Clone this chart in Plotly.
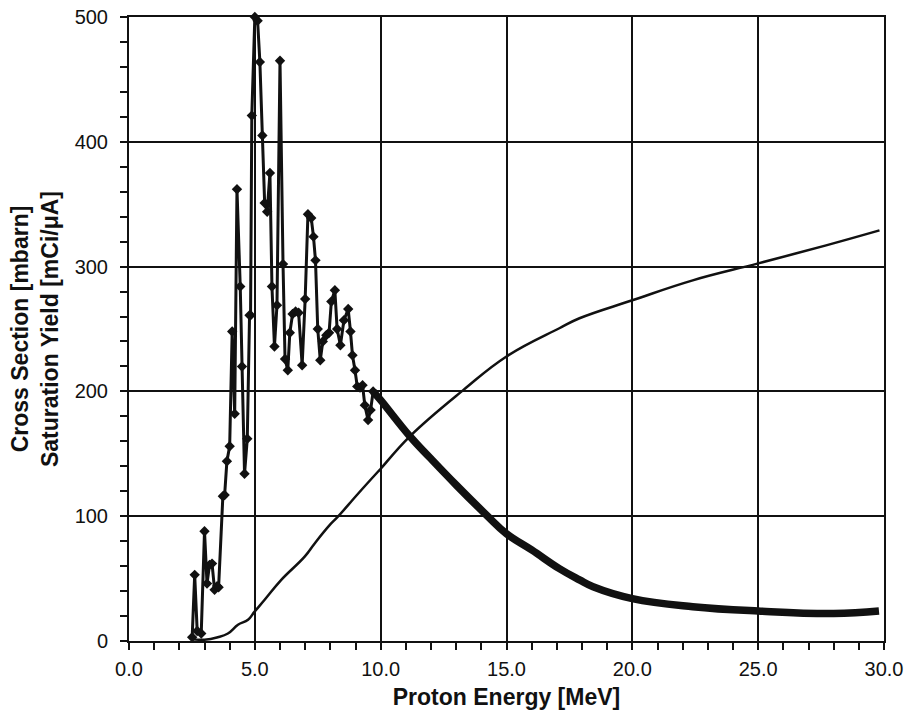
import plotly.graph_objects as go

# Measured cross section (diamond markers), MeV / mbarn
xs_energy = [2.51, 2.61, 2.71, 2.87, 3.0, 3.1, 3.2, 3.3, 3.4, 3.5, 3.56, 3.73, 3.8, 3.89, 4.0,
             4.1, 4.2, 4.29, 4.42, 4.49, 4.59, 4.7, 4.79, 4.83, 4.88, 5.0, 5.11, 5.2, 5.3,
             5.39, 5.49, 5.6, 5.68, 5.78, 5.88, 6.0, 6.12, 6.2, 6.31, 6.39, 6.5, 6.62, 6.74,
             6.88, 7.0, 7.11, 7.24, 7.33, 7.41, 7.5, 7.6, 7.7, 7.84, 7.95, 8.04, 8.18, 8.27,
             8.4, 8.54, 8.71, 8.8, 8.88, 8.98, 9.07, 9.18, 9.28, 9.37, 9.5, 9.6, 9.7]
xs_sigma = [3, 53, 8, 6, 88, 46, 61, 62, 41, 44, 43, 116, 117, 144, 156,
            248, 182, 362, 284, 220, 134, 162, 261, 261, 421, 500, 497, 464, 405,
            351, 344, 375, 284, 236, 269, 465, 302, 226, 217, 247, 262, 264, 263,
            221, 274, 342, 339, 324, 305, 250, 225, 240, 245, 247, 272, 281, 250,
            237, 257, 266, 248, 229, 217, 204, 203, 205, 189, 177, 185, 200]

# Evaluated cross section above 10 MeV (dense thick curve)
xs_hi_energy = [9.7, 10.0, 11.16, 11.95, 13.0, 14.2, 15.0, 16.0, 17.1, 17.9, 18.44, 20.0,
                22.4, 25.0, 28.0, 29.8]
xs_hi_sigma = [200, 193, 164, 147, 125, 101, 86, 73, 58, 49, 43.5, 34, 27.5, 24, 22, 24]

# Saturation yield, mCi/uA
yield_energy = [2.5, 3.0, 3.53, 3.93, 4.33, 4.73, 4.99, 5.39, 6.05, 6.98, 7.37, 7.98, 8.3,
                9.1, 9.89, 10.0, 11.16, 13.28, 15.0, 17.1, 17.9, 20.0, 22.4, 25.0, 27.7, 29.82]
yield_value = [1.5, 1, 3, 6, 13, 17, 23.5, 33, 49, 67.6, 78, 93, 99.6,
               118, 135.6, 138, 164, 201, 228, 250.6, 258.6, 273, 289, 302.6, 317, 329]

x_ticks = [0, 5, 10, 15, 20, 25, 30]
x_tick_labels = ["0.0", "5.0", "10.0", "15.0", "20.0", "25.0", "30.0"]
y_ticks = [0, 100, 200, 300, 400, 500]

fig = go.Figure()
fig.add_trace(go.Scatter(x=yield_energy, y=yield_value, mode="lines",
                         line=dict(color="#111111", width=2.5, shape="spline", smoothing=1.2),
                         cliponaxis=False, showlegend=False))
fig.add_trace(go.Scatter(x=xs_hi_energy, y=xs_hi_sigma, mode="lines",
                         line=dict(color="#111111", width=7.5, shape="spline", smoothing=1.2),
                         cliponaxis=False, showlegend=False))
fig.add_trace(go.Scatter(x=xs_energy, y=xs_sigma, mode="lines+markers",
                         line=dict(color="#111111", width=3),
                         marker=dict(symbol="diamond", size=8, color="#111111"),
                         cliponaxis=False, showlegend=False))

font = "Liberation Sans, Arial, sans-serif"
fig.update_layout(
    width=909, height=717,
    margin=dict(l=129, r=25, t=17, b=76),
    paper_bgcolor="white", plot_bgcolor="white",
    font=dict(family=font, color="#111111", size=20),
    xaxis=dict(range=[0, 30], tickvals=x_ticks, ticktext=x_tick_labels,
               showgrid=True, gridcolor="#111111", gridwidth=2,
               showline=True, linecolor="#111111", linewidth=2, mirror=True,
               ticks="outside", ticklen=7, tickwidth=1.5, tickcolor="#111111",
               minor=dict(dtick=1, ticks="outside", ticklen=7, tickcolor="#111111", showgrid=False),
               zeroline=False, ticklabelstandoff=2, automargin=False,
               title=dict(text="<b>Proton Energy [MeV]</b>", font=dict(size=23), standoff=10)),
    yaxis=dict(range=[0, 500], tickvals=y_ticks,
               showgrid=True, gridcolor="#111111", gridwidth=2,
               showline=True, linecolor="#111111", linewidth=2, mirror=True,
               ticks="outside", ticklen=7, tickwidth=1.5, tickcolor="#111111",
               minor=dict(dtick=20, ticks="outside", ticklen=7, tickcolor="#111111", showgrid=False),
               zeroline=False, ticklabelstandoff=8, automargin=False,
               title=dict(text="<b>Cross Section [mbarn]<br>Saturation Yield [mCi/μA]</b>",
                          font=dict(size=23), standoff=10)),
)

fig.write_html("out.html")
